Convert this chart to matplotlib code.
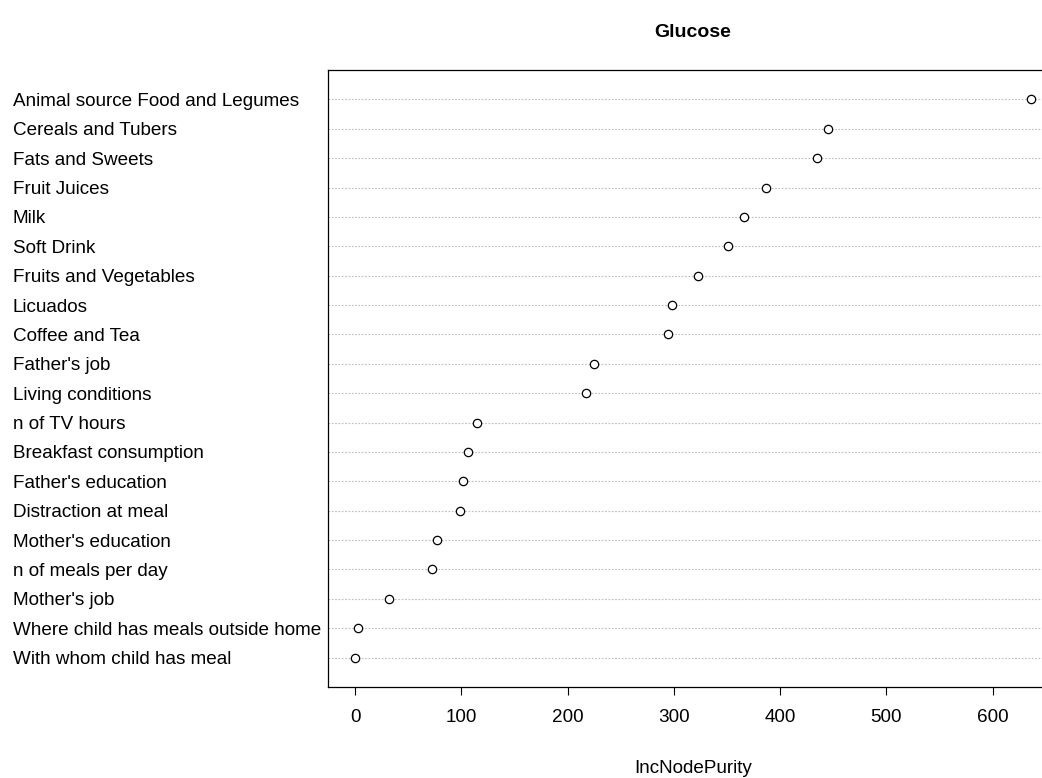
import matplotlib
matplotlib.use("Agg")
import matplotlib.pyplot as plt

plt.rcParams["font.family"] = ["Liberation Sans", "DejaVu Sans"]

# variable importance, top of chart first
variables = [
    "Animal source Food and Legumes", "Cereals and Tubers", "Fats and Sweets",
    "Fruit Juices", "Milk", "Soft Drink", "Fruits and Vegetables", "Licuados",
    "Coffee and Tea", "Father's job", "Living conditions", "n of TV hours",
    "Breakfast consumption", "Father's education", "Distraction at meal",
    "Mother's education", "n of meals per day", "Mother's job",
    "Where child has meals outside home", "With whom child has meal",
]
inc_node_purity = [
    636, 445, 435, 387, 366, 351, 323, 298, 294, 225,
    217, 115, 106, 102, 99, 77, 72, 32, 3, 0,
]
xticks = [0, 100, 200, 300, 400, 500, 600]

n = len(variables)
ypos = list(range(n, 0, -1))

fig = plt.figure(figsize=(10.42, 7.78), dpi=100)
ax = fig.add_axes([0.3148, 0.1170, 0.7006, 0.7930])

xmax = max(inc_node_purity)
pad = 0.04 * xmax
ax.set_xlim(-pad, xmax + pad)
ax.set_ylim(0, n + 1)

for y in ypos:
    ax.axhline(y, color="#bebebe", lw=0.8, ls=(0, (1.5, 1.5)), zorder=1)
ax.scatter(inc_node_purity, ypos, s=36, facecolor="white",
           edgecolor="black", linewidth=0.9, zorder=3)

ax.set_yticks(ypos)
ax.set_yticklabels(variables, fontsize=13.6, ha="left")
ax.tick_params(axis="y", length=0, pad=227)

ax.set_xticks(xticks)
ax.tick_params(axis="x", direction="out", length=6, width=0.8,
               labelsize=13.6, pad=10)
ax.set_xlabel("IncNodePurity", fontsize=13.6, labelpad=24)
ax.set_title("Glucose", fontsize=14, fontweight="bold", pad=24)

for s in ax.spines.values():
    s.set_linewidth(0.9)

fig.savefig("out.png", dpi=100)
